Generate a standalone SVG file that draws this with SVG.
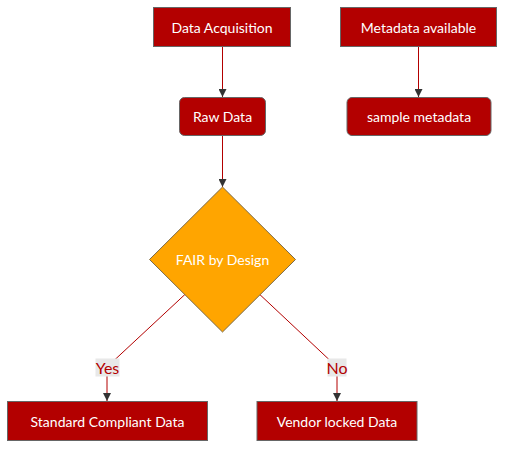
<svg xmlns="http://www.w3.org/2000/svg" width="506" height="450" viewBox="0 0 506 450">
<defs>
<marker id="arr" viewBox="0 0 10 10" refX="10" refY="5" markerWidth="8" markerHeight="8" markerUnits="userSpaceOnUse" orient="auto">
<path d="M0,0 L10,5 L0,10 z" fill="#333"/>
</marker>
<style>
.box{fill:#b30000;stroke:#666;stroke-width:1}
.t{fill:#fff;font-family:Lato,"Open Sans",sans-serif;font-size:14px;text-anchor:middle;dominant-baseline:central}
.e{fill:none;stroke:#b30000;stroke-width:1}
.lbg{fill:#e8e8e8}
.lt{fill:#b30000;font-family:Lato,"Open Sans",sans-serif;font-size:16px;text-anchor:middle;dominant-baseline:central}
</style>
</defs>
<rect width="506" height="450" fill="#fff"/>
<g id="connectors">
<path class="e" d="M222.5,47 L222.5,97" marker-end="url(#arr)"/>
<path class="e" d="M418.5,47 L418.5,97" marker-end="url(#arr)"/>
<path class="e" d="M222.5,136 L222.5,187" marker-end="url(#arr)"/>
<path class="e" d="M222.5,259.5 L107,367 L107,401" marker-end="url(#arr)"/>
<path class="e" d="M222.5,259.5 L337,367 L337,401" marker-end="url(#arr)"/>
</g>
<g id="dataAcq"><rect class="box" x="153.5" y="7.5" width="137" height="39"/><text class="t" x="222" y="27">Data Acquisition</text></g>
<g id="metaAvail"><rect class="box" x="340.5" y="7.5" width="156" height="39"/><text class="t" x="418.5" y="27">Metadata available</text></g>
<g id="rawData"><rect class="box" x="179.5" y="97.5" width="86" height="38" rx="5"/><text class="t" x="222.5" y="116.5">Raw Data</text></g>
<g id="sampleMeta"><rect class="box" x="347" y="97.5" width="144" height="38" rx="5"/><text class="t" x="419" y="116.5">sample metadata</text></g>
<g id="fair"><polygon points="222.5,187 295.5,259.5 222.5,332 149.5,259.5" fill="#ffa500" stroke="#7a6a4a" stroke-width="1"/><text class="t" x="222.5" y="259.5">FAIR by Design</text></g>
<g id="yesLabel"><rect class="lbg" x="95.5" y="358.5" width="24" height="18"/><text class="lt" x="107.5" y="367.5">Yes</text></g>
<g id="noLabel"><rect class="lbg" x="327.5" y="358.5" width="19" height="18"/><text class="lt" x="337" y="367.5">No</text></g>
<g id="standard"><rect class="box" x="7.5" y="401.5" width="200" height="39"/><text class="t" x="107.5" y="421">Standard Compliant Data</text></g>
<g id="vendor"><rect class="box" x="257" y="401.5" width="160" height="39"/><text class="t" x="337" y="421">Vendor locked Data</text></g>
</svg>
